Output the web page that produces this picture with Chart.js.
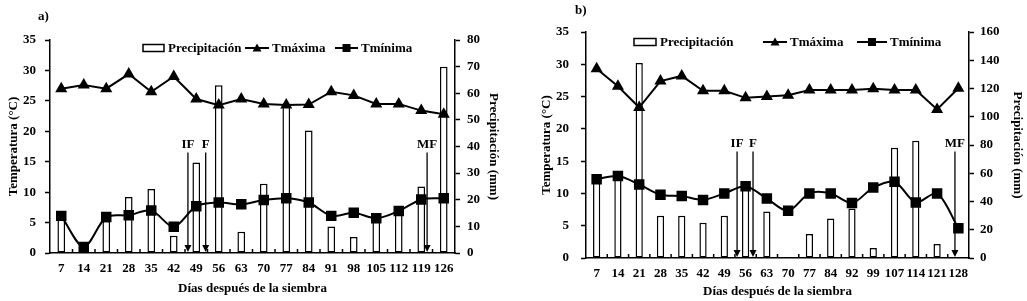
<!DOCTYPE html>
<html lang="es">
<head>
<meta charset="utf-8">
<title>Temperatura y precipitación</title>
<script src="https://cdn.jsdelivr.net/npm/chart.js@4.4.1/dist/chart.umd.min.js"></script>
<style>
  body { margin: 0; background: #fff; }
  #wrap { display: flex; width: 1027px; height: 301px; }
  canvas { display: block; }
</style>
</head>
<body>
<div id="wrap">
  <canvas id="chartA" width="510" height="301"></canvas>
  <canvas id="chartB" width="517" height="301"></canvas>
</div>
<script>
// a) datos por día después de la siembra
const diasA = ['7', '14', '21', '28', '35', '42', '49', '56', '63', '70', '77', '84', '91', '98', '105', '112', '119', '126'];
const precipA = [14, 2, 12, 21, 24, 6.5, 34, 63, 8, 26, 55, 46, 10, 6, 12, 15, 25, 70];
const tmaxA = [27.0, 27.6, 27.0, 29.4, 26.5, 29.0, 25.3, 24.3, 25.3, 24.5, 24.3, 24.4, 26.5, 25.9, 24.5, 24.5, 23.4, 22.8];
const tminA = [6.1, 1.0, 5.9, 6.2, 7.0, 4.3, 7.7, 8.3, 8.0, 8.7, 9.0, 8.3, 6.1, 6.6, 5.7, 6.9, 8.8, 9.0];

// b) datos por día después de la siembra
const diasB = ['7', '14', '21', '28', '35', '42', '49', '56', '63', '70', '77', '84', '92', '99', '107', '114', '121', '128'];
const precipB = [55, 57, 138, 30, 30, 25, 30, 52, 33, 0, 17, 28, 35, 7, 78, 83, 10, 0];
const tmaxB = [29.3, 26.6, 23.3, 27.4, 28.2, 25.9, 25.9, 24.8, 25.0, 25.2, 26.0, 26.0, 26.0, 26.2, 26.0, 26.0, 23.0, 26.3];
const tminB = [12.2, 12.7, 11.4, 9.8, 9.6, 9.0, 10.0, 11.1, 9.2, 7.3, 10.0, 10.0, 8.5, 10.9, 11.8, 8.6, 10.0, 4.6];

// etapas fenológicas (posición en índice de categoría)
const etapasA = [{ texto: 'IF', pos: 5.63 }, { texto: 'F', pos: 6.42 }, { texto: 'MF', pos: 16.26 }];
const etapasB = [{ texto: 'IF', pos: 6.6 }, { texto: 'F', pos: 7.35 }, { texto: 'MF', pos: 16.84 }];

Chart.defaults.font.family = '"Liberation Serif", "Times New Roman", serif';
Chart.defaults.font.size = 13;
Chart.defaults.font.weight = 'bold';
Chart.defaults.color = '#000';

// iconos de la leyenda
function icono(tipo, ancho) {
  const c = document.createElement('canvas');
  c.width = ancho; c.height = 10;
  const g = c.getContext('2d');
  g.strokeStyle = '#000'; g.fillStyle = '#000';
  if (tipo === 'barra') {
    g.lineWidth = 1.5;
    g.strokeRect(1, 1.5, ancho - 2, 7);
    return c;
  }
  g.lineWidth = 2;
  g.beginPath(); g.moveTo(0, 5); g.lineTo(ancho, 5); g.stroke();
  const cx = ancho / 2;
  if (tipo === 'triangulo') {
    g.beginPath(); g.moveTo(cx, 0.5); g.lineTo(cx + 4.5, 8.5); g.lineTo(cx - 4.5, 8.5); g.closePath(); g.fill();
  } else {
    g.fillRect(cx - 4, 1, 8, 8);
  }
  return c;
}

// marcas del eje x, flechas IF/F/MF, leyenda y letra del panel
const etapasPlugin = {
  id: 'etapas',
  afterDatasetsDraw(chart, args, opts) {
    const ctx = chart.ctx;
    const x = chart.scales.x, y = chart.scales.y;
    const area = chart.chartArea;
    ctx.save();
    ctx.strokeStyle = '#000'; ctx.fillStyle = '#000';
    ctx.lineWidth = 1.5;
    for (let i = 1; i < chart.data.labels.length; i++) {
      const px = x.getPixelForValue(i - 0.5);
      ctx.beginPath(); ctx.moveTo(px, area.bottom); ctx.lineTo(px, area.bottom - 4); ctx.stroke();
    }
    ctx.font = 'bold 13px "Liberation Serif"';
    ctx.textAlign = 'center'; ctx.textBaseline = 'bottom';
    opts.marcas.forEach(m => {
      const px = x.getPixelForValue(m.pos);
      const top = y.getPixelForValue(opts.alto);
      ctx.lineWidth = 1.3;
      ctx.beginPath(); ctx.moveTo(px, top); ctx.lineTo(px, area.bottom - 6); ctx.stroke();
      ctx.beginPath();
      ctx.moveTo(px - 3.5, area.bottom - 8); ctx.lineTo(px + 3.5, area.bottom - 8); ctx.lineTo(px, area.bottom - 1);
      ctx.closePath(); ctx.fill();
      ctx.fillText(m.texto, px, top - 1);
    });
    // leyenda dentro del área
    ctx.textAlign = 'left'; ctx.textBaseline = 'middle';
    const ley = opts.leyenda;
    chart.data.datasets.forEach((ds, i) => {
      const ic = ley.iconos[i];
      ctx.drawImage(ic, ley.x[i], ley.y - ic.height / 2);
      ctx.fillText(ds.label, ley.x[i] + ic.width + 3, ley.y + 1);
    });
    ctx.fillText(opts.panel.texto, opts.panel.x, opts.panel.y);
    ctx.restore();
  }
};

function crearGrafico(id, dias, precip, tmax, tmin, c) {
  const iconos = [icono('barra', c.icono[0]), icono('triangulo', c.icono[1]), icono('cuadro', c.icono[2])];
  return new Chart(document.getElementById(id), {
    type: 'bar',
    data: {
      labels: dias,
      datasets: [{
        type: 'bar',
        label: 'Precipitación',
        data: precip,
        yAxisID: 'y1',
        backgroundColor: '#fff',
        borderColor: '#000',
        borderWidth: 1.5,
        borderSkipped: false,
        barPercentage: 0.34,
        categoryPercentage: 1,
        order: 3
      }, {
        type: 'line',
        label: 'Tmáxima',
        data: tmax,
        yAxisID: 'y',
        borderColor: '#000',
        backgroundColor: '#000',
        borderWidth: 2,
        pointStyle: 'triangle',
        pointRadius: 5,
        tension: 0,
        order: 2
      }, {
        type: 'line',
        label: 'Tmínima',
        data: tmin,
        yAxisID: 'y',
        borderColor: '#000',
        backgroundColor: '#000',
        borderWidth: 2,
        pointStyle: 'rect',
        pointRadius: 6,
        tension: 0.3,
        order: 1
      }]
    },
    options: {
      responsive: false,
      animation: false,
      layout: { padding: c.padding },
      scales: {
        x: {
          offset: true,
          grid: { drawOnChartArea: false, drawTicks: false },
          border: { color: '#000', width: 1.5 },
          ticks: { autoSkip: false, maxRotation: 0, padding: 8 },
          title: { display: true, text: 'Días después de la siembra', padding: { top: 0, bottom: c.xTitulo } },
          afterFit: s => { s.height = c.xAlto; }
        },
        y: {
          position: 'left',
          min: 0, max: 35,
          ticks: { stepSize: 5, padding: c.yPad },
          grid: { drawOnChartArea: false, tickLength: 5, tickColor: '#000', tickWidth: 1.5 },
          border: { color: '#000', width: 1.5 },
          title: { display: true, text: 'Temperatura (°C)', padding: { top: c.yTitulo, bottom: 0 } },
          afterFit: s => { s.width = c.yAncho; }
        },
        y1: {
          position: 'right',
          min: 0, max: c.pMax,
          ticks: { stepSize: c.pPaso, padding: c.y1Pad },
          grid: { drawOnChartArea: false, tickLength: 5, tickColor: '#000', tickWidth: 1.5 },
          border: { color: '#000', width: 1.5 },
          title: { display: true, text: 'Precipitación (mm)', padding: { top: c.y1Titulo, bottom: 0 } },
          afterFit: s => { s.width = c.y1Ancho; }
        }
      },
      plugins: {
        tooltip: { enabled: false },
        legend: { display: false },
        etapas: {
          marcas: c.marcas,
          alto: 16.5,
          panel: c.panel,
          leyenda: { iconos: iconos, x: c.leyendaX, y: c.leyendaY }
        }
      }
    },
    plugins: [etapasPlugin]
  });
}

// a)
crearGrafico('chartA', diasA, precipA, tmaxA, tminA, {
  padding: { top: 40, right: 5, bottom: 2, left: 0 },
  xAlto: 46, xTitulo: 3,
  yAncho: 50, yPad: 9, yTitulo: 6,
  y1Ancho: 50, y1Pad: 7, y1Titulo: 4,
  pMax: 80, pPaso: 10,
  icono: [23, 24, 23],
  leyendaX: [142, 245, 335], leyendaY: 48,
  marcas: etapasA,
  panel: { texto: 'a)', x: 38, y: 17 }
});

// b)
crearGrafico('chartB', diasB, precipB, tmaxB, tminB, {
  padding: { top: 32, right: 0, bottom: 0, left: 0 },
  xAlto: 43, xTitulo: 2,
  yAncho: 76, yPad: 12, yTitulo: 29,
  y1Ancho: 58, y1Pad: 6, y1Titulo: 2,
  pMax: 160, pPaso: 20,
  icono: [24, 24, 30],
  leyendaX: [123, 253, 347], leyendaY: 42,
  marcas: etapasB,
  panel: { texto: 'b)', x: 65, y: 11 }
});
</script>
</body>
</html>
